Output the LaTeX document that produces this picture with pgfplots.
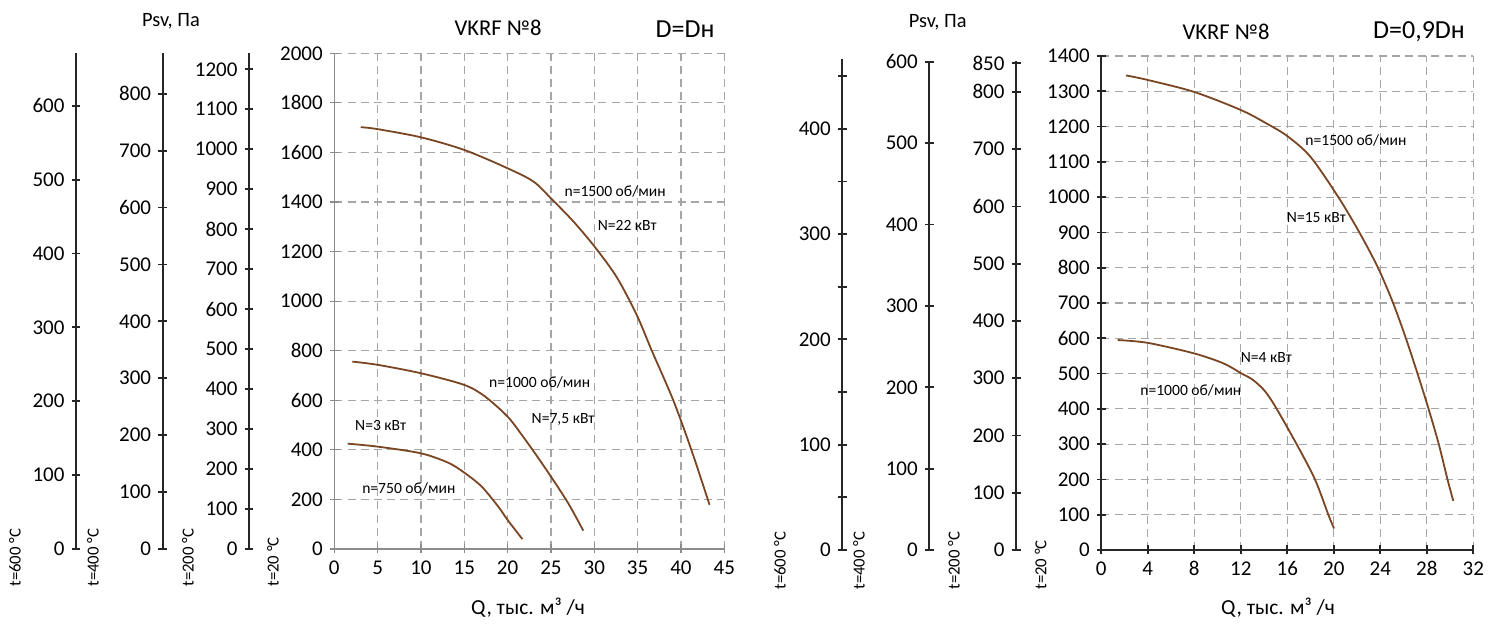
\documentclass[border=0pt]{standalone}
\usepackage{fontspec}
\setmainfont{Carlito}
\usepackage{pgfplots}
\pgfplotsset{compat=1.18}
\definecolor{curve}{HTML}{7A4522}
\definecolor{gridc}{HTML}{A6A6A6}
\definecolor{axc}{HTML}{262626}
\definecolor{axg}{HTML}{8C8C8C}
\newcommand{\fs}[1]{\fontsize{#1}{#1}\selectfont}
\tikzset{ann/.style={font=\fs{7.8}, inner sep=0pt}}
\pgfplotsset{
 base/.style={scale only axis, anchor=south west, clip=false,
   /pgf/number format/assume math mode=true,
   /pgf/number format/set thousands separator={},
   scaled ticks=false, tick align=outside, major tick length=4.5pt,
   ticklabel style={font=\fs{10.5}}},
 extra/.style={base, width=1pt, xmin=0, xmax=1, ymin=0,
   axis y line=left, axis x line=none, axis line style={-, axc, line width=0.9pt},
   ytick style={axc, line width=0.9pt}, xtick=\empty},
 main/.style={base, axis lines=left, grid=major,
   grid style={gridc, dash pattern=on 4pt off 2.6pt, line width=0.6pt}},
 crv/.style={curve, line width=0.9pt, smooth, tension=0.5, no marks},
}
\begin{document}
\begin{tikzpicture}
\path[use as bounding box] (0,0) rectangle (749.5pt,312pt);
% ---------------- LEFT PANEL ----------------
\begin{axis}[extra, at={(38pt,37.5pt)}, height=247.85pt, ymax=671, ytick={0,100,...,600}]
\end{axis}
\begin{axis}[extra, at={(81.35pt,37.5pt)}, height=247.85pt, ymax=871, ytick={0,100,...,800}]
\end{axis}
\begin{axis}[extra, at={(124.5pt,37.5pt)}, height=247.85pt, ymax=1240, ytick={0,100,...,1200}]
\end{axis}
\begin{axis}[main, at={(167.15pt,37.5pt)}, width=195pt, height=247.85pt,
  xmin=0, xmax=45, ymin=0, ymax=2000, xtick={0,5,...,45}, ytick={0,200,...,2000},
  axis line style={-, axg, line width=0.6pt}, tick style={axg, line width=0.6pt}]
\addplot[crv] coordinates {(3.05,1702) (5,1694) (10,1661) (15,1610) (20,1536) (23,1482) (25.1,1411) (27.6,1321) (30.1,1217) (32.6,1096) (34.9,944) (36.6,803) (39.1,601) (41.2,400) (43.3,178)};
\addplot[crv] coordinates {(2.08,756) (5,743) (10,709) (15,662) (17.4,615) (20,534) (21.6,462) (23.16,386) (25,292) (27,184) (28.73,74)};
\addplot[crv] coordinates {(1.54,425) (5,413) (10,386) (13.15,348) (15,308) (17,252) (18.92,171) (20,117) (21.7,40)};
\node[ann] at (axis cs:32.4,1442) {n=1500 об/мин};
\node[ann] at (axis cs:33.8,1305) {N=22 кВт};
\node[ann] at (axis cs:23.7,672) {n=1000 об/мин};
\node[ann] at (axis cs:26.4,523) {N=7,5 кВт};
\node[ann] at (axis cs:5.35,498) {N=3 кВт};
\node[ann] at (axis cs:8.6,243) {n=750 об/мин};
\end{axis}
\node[font=\fs{10.2}] at (85.5pt,301.5pt) {Psv, Па};
\node[font=\fs{11.3}] at (249pt,298pt) {VKRF №8};
\node[font=\fs{13}] at (342.5pt,297.5pt) {D=Dн};
\node[font=\fs{10.7}] at (264pt,8pt) {Q, тыс. м³ /ч};
\foreach \xx/\tt in {7.5/600, 46.5/400, 94/200, 136.5/20}
  \node[font=\fs{8.4}, rotate=90, anchor=west, inner sep=0pt] at (\xx pt,18.5pt) {t=\tt\ °C};
% ---------------- RIGHT PANEL ----------------
\begin{axis}[extra, at={(421.15pt,37pt)}, height=245.35pt, ymax=466, ytick={0,50,...,450},
  yticklabels={0,,100,,200,,300,,400,}]
\end{axis}
\begin{axis}[extra, at={(464.65pt,37pt)}, height=244.5pt, ymax=601, ytick={0,100,...,600}]
\end{axis}
\begin{axis}[extra, at={(508pt,37pt)}, height=244.5pt, ymax=854, ytick={0,100,200,300,400,500,600,700,800,850}]
\end{axis}
\begin{axis}[main, at={(550.65pt,37pt)}, width=186pt, height=247pt,
  xmin=0, xmax=32, ymin=0, ymax=1400, xtick={0,4,...,32}, ytick={0,100,...,1400},
  axis line style={-, axc, line width=0.9pt}, tick style={axc, line width=0.9pt}]
\addplot[crv] coordinates {(2.12,1345) (4,1332) (8,1298) (12,1247) (14.2,1209) (16,1173) (18,1114) (20.39,1000) (22.2,900) (23.8,800) (25.1,700) (26.2,600) (27.2,500) (28.15,400) (29.03,300) (29.78,200) (30.28,139)};
\addplot[crv] coordinates {(1.41,595) (4,587) (8,557) (10.5,529) (12.02,501) (13,483) (14,453) (14.94,408) (16.8,300) (18.38,200) (19.53,100) (20.02,61)};
\node[ann] at (axis cs:21.9,1160) {n=1500 об/мин};
\node[ann] at (axis cs:18.5,942) {N=15 кВт};
\node[ann] at (axis cs:14.2,545) {N=4 кВт};
\node[ann] at (axis cs:7.7,453) {n=1000 об/мин};
\end{axis}
\node[font=\fs{10.2}] at (468.85pt,301pt) {Psv, Па};
\node[font=\fs{11.3}] at (613pt,296pt) {VKRF №8};
\node[font=\fs{13}] at (709.5pt,296pt) {D=0,9Dн};
\node[font=\fs{10.7}] at (639pt,8pt) {Q, тыс. м³ /ч};
\foreach \xx/\tt in {390/600, 429.5/400, 477/200, 520.35/20}
  \node[font=\fs{8.4}, rotate=90, anchor=west, inner sep=0pt] at (\xx pt,17pt) {t=\tt\ °C};
\end{tikzpicture}
\end{document}
